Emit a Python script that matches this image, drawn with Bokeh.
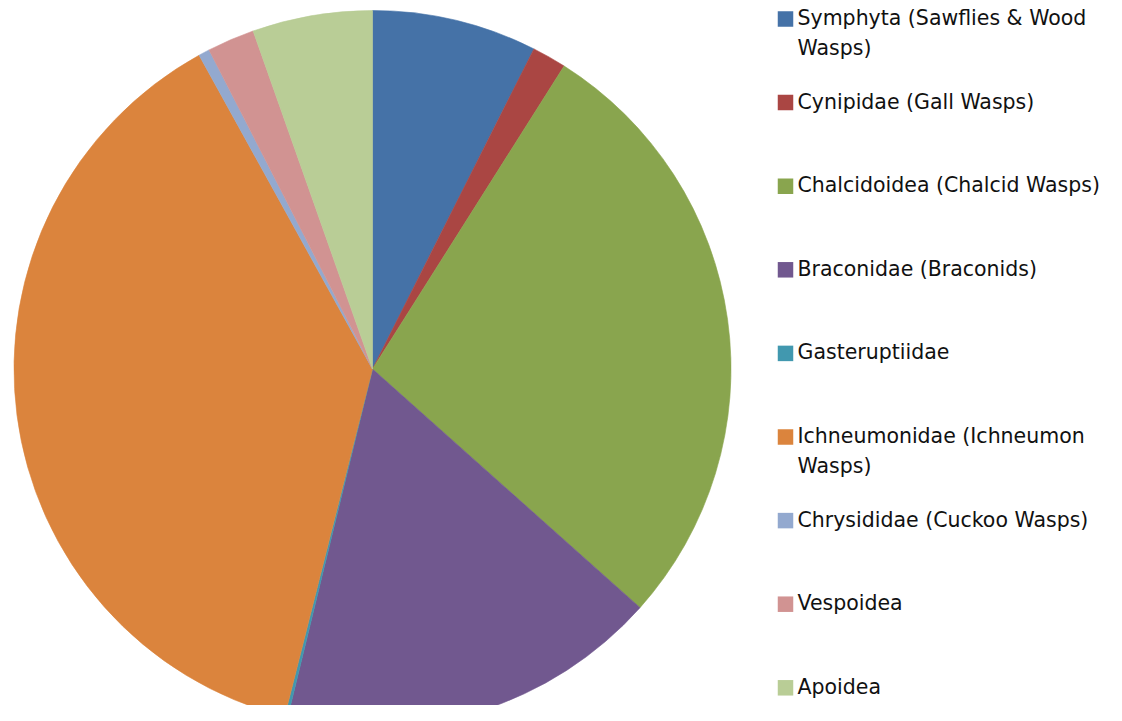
import math
from bokeh.plotting import figure
from bokeh.models import Range1d, ColumnDataSource
from bokeh.core.properties import value
from bokeh.embed import file_html
from bokeh.resources import INLINE

# ---- data ----
categories = [
    "Symphyta (Sawflies & Wood\nWasps)",
    "Cynipidae (Gall Wasps)",
    "Chalcidoidea (Chalcid Wasps)",
    "Braconidae (Braconids)",
    "Gasteruptiidae",
    "Ichneumonidae (Ichneumon\nWasps)",
    "Chrysididae (Cuckoo Wasps)",
    "Vespoidea",
    "Apoidea",
]
percent = [7.43, 1.54, 27.6, 17.2, 0.14, 38.0, 0.5, 2.13, 5.4]
colors = ["#4572A7", "#AA4643", "#89A54E", "#71588F", "#4198AF",
          "#DB843D", "#93A9CF", "#D19392", "#B9CD96"]

# ---- layout (screen pixels, figure coords) ----
W, H = 1106, 705


def sy(y):  # screen y -> data y
    return H - y


p = figure(width=W, height=H, output_backend="svg", toolbar_location=None,
           x_range=Range1d(0, W), y_range=Range1d(0, H), min_border=0)
p.axis.visible = False
p.grid.visible = False
p.outline_line_color = None
p.background_fill_color = "white"
p.border_fill_color = "white"

# pie
cx, cy, r = 372, 368.5, 358.5
total = sum(percent)
starts, ends = [], []
acc = 0.0
for v in percent:
    starts.append(math.pi / 2 - 2 * math.pi * acc / total)
    acc += v
    ends.append(math.pi / 2 - 2 * math.pi * acc / total)
src = ColumnDataSource(dict(start=starts, end=ends, color=colors,
                            x=[cx] * len(percent), y=[sy(cy)] * len(percent)))
p.wedge(x="x", y="y", radius=r, start_angle="start", end_angle="end",
        direction="clock", fill_color="color", line_color="color",
        line_width=0.6, source=src)

# legend
lx_sq, lx_txt = 785, 797
ly0, ldy, line_h = 18.5, 83.6, 30
sq_x, sq_y, sq_c = [], [], []
tx, ty, tt = [], [], []
for i, (lab, c) in enumerate(zip(categories, colors)):
    yc = ly0 + ldy * i
    sq_x.append(lx_sq)
    sq_y.append(sy(yc))
    sq_c.append(c)
    for j, line in enumerate(lab.split("\n")):
        tx.append(lx_txt)
        ty.append(sy(yc - 1 + j * line_h))
        tt.append(line)
p.rect(x=sq_x, y=sq_y, width=15.5, height=15.5, fill_color=sq_c, line_color=None)
p.text(x=tx, y=ty, text=tt, text_font=value("DejaVu Sans"), text_font_size="20.5px",
       text_color="#111111", text_baseline="middle", text_align="left")

open("out.html", "w").write(file_html(p, INLINE))
